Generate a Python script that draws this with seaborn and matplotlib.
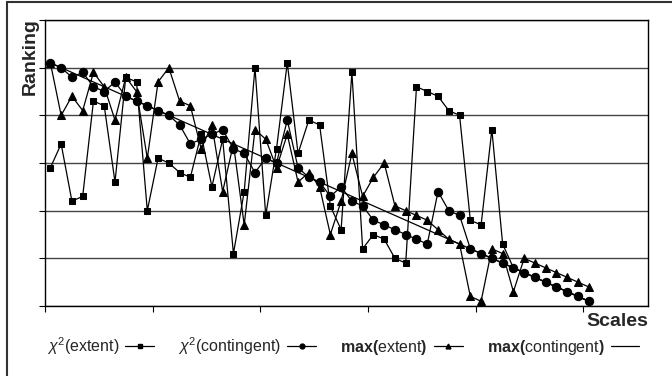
import numpy as np
import pandas as pd
import matplotlib
matplotlib.use("Agg")
import matplotlib.pyplot as plt
import seaborn as sns
from matplotlib.patches import Rectangle
from matplotlib.lines import Line2D

# scale index 1..51 and the rankings
scales = list(range(1, 52))
chi2_extent = [29, 34, 22, 23, 43, 42, 26, 48, 47, 20, 31, 30, 28, 27, 36, 25, 35, 11, 24, 50,
               19, 33, 51, 32, 39, 38, 21, 16, 49, 12, 15, 14, 10, 9, 46, 45, 44, 41, 40, 18,
               17, 37, 13, 8, 7, 6, 5, 4, 3, 2, 1]
chi2_contingent = [51, 50, 48, 49, 46, 45, 47, 44, 43, 42, 41, 40, 38, 34, 35, 36, 37, 33, 32, 28,
                   31, 30, 39, 29, 27, 26, 23, 25, 22, 21, 18, 17, 16, 15, 14, 13, 24, 20, 19, 12,
                   11, 10, 9, 8, 7, 6, 5, 4, 3, 2, 1]
max_extent = [51, 40, 44, 41, 49, 46, 39, 48, 45, 31, 47, 50, 43, 42, 33, 38, 24, 34, 17, 37,
              35, 29, 36, 26, 28, 25, 15, 22, 32, 23, 27, 30, 21, 20, 19, 18, 16, 14, 13, 2,
              1, 12, 11, 3, 10, 9, 8, 7, 6, 5, 4]
max_contingent = [51 - i for i in range(51)]

labels = [r"$\chi^2$(extent$\it{)}$",
          r"$\chi^2$(contingent$\it{)}$",
          r"$\mathbf{max(}$extent$\mathbf{)}$",
          r"$\mathbf{max(}$contingent$\mathbf{)}$"]

sns.set_style("white")
plt.rcParams['font.family'] = ['Liberation Sans', 'DejaVu Sans']
plt.rcParams['mathtext.fontset'] = 'custom'
plt.rcParams['mathtext.rm'] = 'Liberation Sans'
plt.rcParams['mathtext.it'] = 'Liberation Sans:italic'
plt.rcParams['mathtext.bf'] = 'Liberation Sans:bold'

fig = plt.figure(figsize=(6.72, 3.76), dpi=100)
ax = fig.add_axes([45 / 672, 70 / 376, 603 / 672, 286 / 376])

line_kw = dict(color='black', linewidth=0.9, markeredgecolor='black', markerfacecolor='black')
sns.lineplot(x=scales, y=max_contingent, ax=ax, zorder=2, **line_kw)
sns.lineplot(x=scales, y=max_extent, ax=ax, marker='^', markersize=5.5, zorder=3, **line_kw)
sns.lineplot(x=scales, y=chi2_extent, ax=ax, marker='s', markersize=4.5, zorder=4, **line_kw)
sns.lineplot(x=scales, y=chi2_contingent, ax=ax, marker='o', markersize=6, zorder=5, **line_kw)

ax.set_xlim(0.5, 56.5)
ax.set_ylim(0, 60)
ax.set_xticks(np.arange(0.5, 51, 10))
ax.set_yticks(np.arange(0, 61, 10))
ax.set_xticklabels([])
ax.set_yticklabels([])
ax.tick_params(axis='both', direction='out', length=4, width=0.8, color='black',
               bottom=True, left=True)
ax.yaxis.grid(True, color='#444444', linewidth=1)
ax.set_axisbelow(True)
for s in ax.spines.values():
    s.set_color('black')
    s.set_linewidth(1)
ax.set_xlabel('')
ax.set_ylabel('')

fig.text(30 / 672, 1 - 57 / 376, 'Ranking', rotation=90, ha='center', va='center',
         fontsize=14, fontweight='bold')
fig.text(648 / 672, 1 - 322 / 376, 'Scales', ha='right', va='center',
         fontsize=14, fontweight='bold')

# legend: text first, then the line sample
handles = [Line2D([], [], color='black', lw=0.9, marker='s', markersize=3),
           Line2D([], [], color='black', lw=0.9, marker='o', markersize=3.5),
           Line2D([], [], color='black', lw=0.9, marker='^', markersize=3.5),
           Line2D([], [], color='black', lw=0.9)]
fig.legend(handles, labels, loc='center', bbox_to_anchor=(343 / 672, 1 - 346 / 376),
           ncol=4, frameon=False, markerfirst=False, fontsize=11.5,
           handlelength=1.8, handletextpad=0.4, columnspacing=1.5)

# outer chart frame
fig.patches.append(Rectangle((7 / 672, -0.05), 1.0, 1.05 - 2 / 376, transform=fig.transFigure,
                             fill=False, edgecolor='#333333', linewidth=1.5))

fig.savefig('out.png', dpi=100)
